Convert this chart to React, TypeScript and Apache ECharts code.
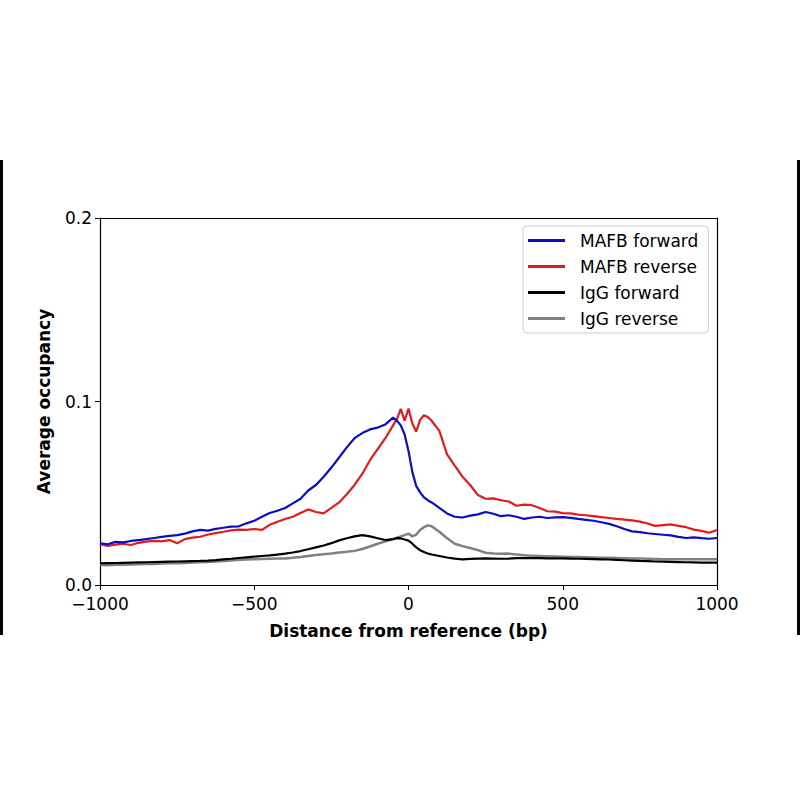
import React, { useEffect, useRef } from "react";
import * as echarts from "echarts";

const xs = [
  -1000, -975, -950, -925, -900, -875, -850, -825, -800, -775,
  -750, -725, -700, -675, -650, -625, -600, -575, -550, -525,
  -500, -475, -450, -425, -400, -375, -350, -325, -300, -275,
  -250, -225, -200, -175, -150, -125, -100, -75, -50, -37.5,
  -25, -12.5, 0, 12.5, 25, 37.5, 50, 62.5, 75, 100,
  125, 150, 175, 200, 225, 250, 275, 300, 325, 350,
  375, 400, 425, 450, 475, 500, 525, 550, 575, 600,
  625, 650, 675, 700, 725, 750, 775, 800, 825, 850,
  875, 900, 925, 950, 975, 1000,
];

const mafbForward = [
  0.0227, 0.0222, 0.0235, 0.0232, 0.024, 0.0245, 0.025, 0.0256, 0.0262, 0.0268,
  0.0272, 0.028, 0.0292, 0.03, 0.0296, 0.0306, 0.0312, 0.0318, 0.032, 0.0336,
  0.035, 0.0372, 0.0392, 0.0405, 0.042, 0.0445, 0.047, 0.0515, 0.0545, 0.059,
  0.064, 0.0695, 0.075, 0.08, 0.0828, 0.0848, 0.0858, 0.0875, 0.0912, 0.0895,
  0.087, 0.082, 0.073, 0.0615, 0.054, 0.0505, 0.0478, 0.0462, 0.045, 0.042,
  0.039, 0.0372, 0.0368, 0.0378, 0.0385, 0.0398, 0.0388, 0.0375, 0.038, 0.0372,
  0.036, 0.0368, 0.0372, 0.0365, 0.0368, 0.037, 0.0366, 0.036, 0.0355, 0.035,
  0.0342, 0.0333, 0.032, 0.0305, 0.0292, 0.0288, 0.0282, 0.0278, 0.0274, 0.027,
  0.0262, 0.0256, 0.026, 0.0255, 0.0252, 0.0256,
];

const mafbReverse = [
  0.0223, 0.0213, 0.022, 0.0225, 0.0218, 0.023, 0.0236, 0.024, 0.0238, 0.0245,
  0.0228, 0.025, 0.0258, 0.0263, 0.0275, 0.0283, 0.029, 0.0298, 0.0302, 0.03,
  0.0305, 0.03, 0.0328, 0.0345, 0.036, 0.0372, 0.0392, 0.0412, 0.0398, 0.039,
  0.042, 0.045, 0.0495, 0.0545, 0.0605, 0.068, 0.074, 0.08, 0.087, 0.0905,
  0.096, 0.0895, 0.0962, 0.088, 0.0835, 0.09, 0.0925, 0.0915, 0.0895, 0.084,
  0.0712, 0.065, 0.059, 0.0545, 0.049, 0.047, 0.0472, 0.0462, 0.0455, 0.0432,
  0.0438, 0.0435, 0.042, 0.0402, 0.04, 0.0392, 0.039, 0.0384, 0.038, 0.0375,
  0.037, 0.0365, 0.036, 0.0356, 0.0352, 0.0345, 0.0335, 0.0322, 0.0326, 0.033,
  0.0322, 0.0315, 0.0302, 0.0295, 0.0285, 0.03,
];

const iggForward = [
  0.0118, 0.0119, 0.012, 0.0121, 0.0122, 0.0123, 0.0124, 0.0125, 0.0126, 0.0127,
  0.0128, 0.0129, 0.013, 0.0131, 0.0133, 0.0136, 0.014, 0.0143, 0.0147, 0.0151,
  0.0155, 0.0158, 0.0161, 0.0166, 0.0171, 0.0177, 0.0185, 0.0195, 0.0205, 0.0215,
  0.0228, 0.0243, 0.0255, 0.0265, 0.0272, 0.0265, 0.0255, 0.0245, 0.025, 0.0255,
  0.0254, 0.0248, 0.0242, 0.0225, 0.0205, 0.019, 0.018, 0.0172, 0.0166, 0.0158,
  0.015, 0.0144, 0.014, 0.0142, 0.0144, 0.0145, 0.0144, 0.0143, 0.0144, 0.0146,
  0.0147, 0.0146, 0.0146, 0.0145, 0.0145, 0.0145, 0.0144, 0.0143, 0.0142, 0.0141,
  0.014, 0.0139, 0.0137, 0.0135, 0.0133, 0.0131, 0.013, 0.0128, 0.0127, 0.0126,
  0.0125, 0.0124, 0.0123, 0.0122, 0.0122, 0.0122,
];

const iggReverse = [
  0.0109, 0.0108, 0.011, 0.0111, 0.0112, 0.0113, 0.0114, 0.0115, 0.0117, 0.0118,
  0.0119, 0.012, 0.0122, 0.0124, 0.0126, 0.0128, 0.0131, 0.0134, 0.0137, 0.0139,
  0.0141, 0.0142, 0.0143, 0.0144, 0.0145, 0.0148, 0.0152, 0.0158, 0.0164, 0.0168,
  0.0172, 0.0177, 0.0181, 0.0186, 0.0196, 0.021, 0.0225, 0.0238, 0.025, 0.0258,
  0.0265, 0.0272, 0.028, 0.0265, 0.0275, 0.03, 0.0315, 0.0325, 0.032, 0.029,
  0.0255, 0.0225, 0.0212, 0.0202, 0.019, 0.0176, 0.0172, 0.017, 0.0171, 0.0166,
  0.0162, 0.016, 0.0158, 0.0156, 0.0155, 0.0154, 0.0153, 0.0152, 0.0151, 0.015,
  0.0149, 0.0148, 0.0147, 0.0146, 0.0145, 0.0144, 0.0143, 0.0142, 0.0141, 0.0141,
  0.014, 0.014, 0.014, 0.014, 0.014, 0.0141,
];

const seriesNames = ["MAFB forward", "MAFB reverse", "IgG forward", "IgG reverse"];
const seriesColors = ["#0c0cc4", "#e01c1c", "#000000", "#808080"];
const xTicks = [-1000, -500, 0, 500, 1000];
const yTicks = [0, 0.1, 0.2];

const FONT = "DejaVu Sans";

export default function App() {
  const ref = useRef<HTMLDivElement>(null);
  useEffect(() => {
    if (!ref.current) return;
    const chart = echarts.init(ref.current, null, { renderer: "svg" });
    const allData = [mafbForward, mafbReverse, iggForward, iggReverse];
    const fmtX = (v: number) => (v < 0 ? "\u2212" + Math.abs(v) : String(v));
    const axisLine = { show: true, onZero: false, lineStyle: { color: "#000", width: 1.2 } };
    chart.setOption({
      animation: false,
      backgroundColor: "#fff",
      grid: { left: 100, right: 83, top: 218, bottom: 215, containLabel: false },
      legend: {
        data: seriesNames,
        orient: "vertical",
        left: 523,
        top: 226,
        width: 185,
        padding: [6, 10, 6, 5],
        itemGap: 9,
        itemWidth: 37,
        itemHeight: 3,
        icon: "rect",
        backgroundColor: "#fff",
        borderColor: "#cccccc",
        borderWidth: 1,
        borderRadius: 4,
        textStyle: {
          fontFamily: FONT,
          fontSize: 17,
          color: "#000",
          lineHeight: 17,
          padding: [0, 0, 0, 10],
        },
      },
      xAxis: [
        {
          type: "value",
          min: -1000,
          max: 1000,
          interval: 500,
          position: "bottom",
          axisLine,
          axisTick: { show: true, length: 5, lineStyle: { color: "#000" } },
          axisLabel: {
            fontFamily: FONT,
            fontSize: 17,
            color: "#000",
            margin: 10,
            formatter: (v: number) => (xTicks.includes(v) ? fmtX(v) : ""),
          },
          splitLine: { show: false },
          name: "Distance from reference (bp)",
          nameLocation: "middle",
          nameGap: 37,
          nameTextStyle: { fontFamily: FONT, fontSize: 17, fontWeight: "bold", color: "#000" },
        },
        {
          type: "value",
          min: -1000,
          max: 1000,
          position: "top",
          axisLine,
          axisTick: { show: false },
          axisLabel: { show: false },
          splitLine: { show: false },
        },
      ],
      yAxis: [
        {
          type: "value",
          min: 0,
          max: 0.2,
          interval: 0.1,
          position: "left",
          axisLine,
          axisTick: { show: true, length: 5, lineStyle: { color: "#000" } },
          axisLabel: {
            fontFamily: FONT,
            fontSize: 17,
            color: "#000",
            margin: 8,
            formatter: (v: number) =>
              yTicks.some((t) => Math.abs(t - v) < 1e-9) ? v.toFixed(1) : "",
          },
          splitLine: { show: false },
          name: "Average occupancy",
          nameLocation: "middle",
          nameGap: 48,
          nameRotate: 90,
          nameTextStyle: { fontFamily: FONT, fontSize: 17, fontWeight: "bold", color: "#000" },
        },
        {
          type: "value",
          min: 0,
          max: 0.2,
          position: "right",
          axisLine,
          axisTick: { show: false },
          axisLabel: { show: false },
          splitLine: { show: false },
        },
      ],
      series: seriesNames.map((name, i) => ({
        name,
        type: "line",
        xAxisIndex: 0,
        yAxisIndex: 0,
        showSymbol: false,
        symbol: "none",
        color: seriesColors[i],
        lineStyle: { color: seriesColors[i], width: i === 3 ? 2.5 : 2.2 },
        data: xs.map((x, k) => [x, allData[i][k]]),
        z: 10 - i,
      })),
      graphic: [
        { type: "rect", left: 0, top: 160, shape: { width: 3, height: 475 }, style: { fill: "#000" } },
        { type: "rect", left: 797, top: 160, shape: { width: 3, height: 475 }, style: { fill: "#000" } },
      ],
    });
    return () => chart.dispose();
  }, []);
  return (
    <div
      ref={ref}
      style={{ position: "fixed", left: 0, top: 0, width: 800, height: 800, background: "#fff" }}
    />
  );
}
